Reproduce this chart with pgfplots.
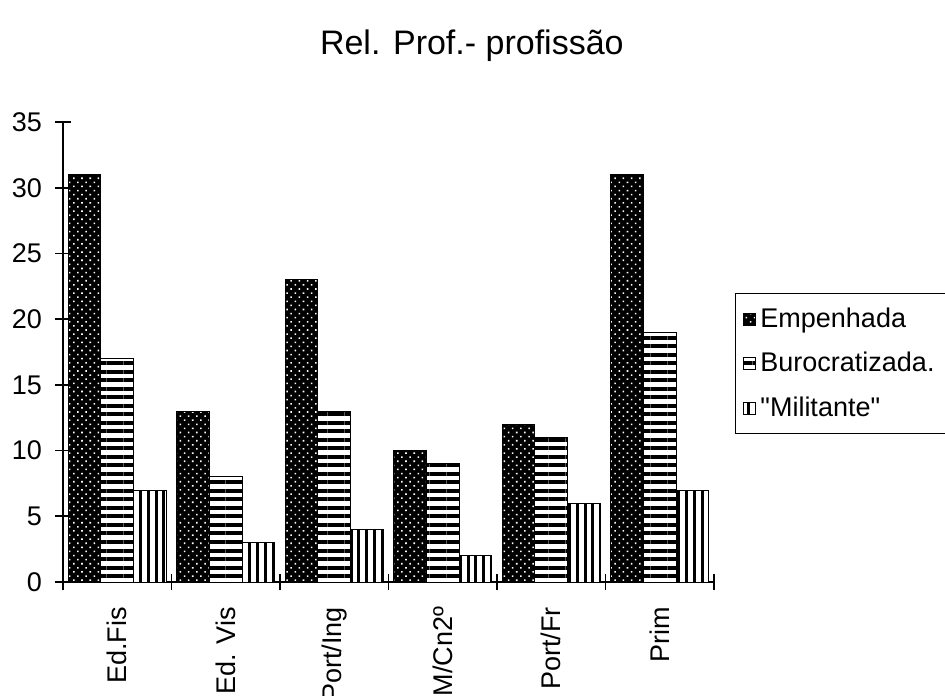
\documentclass[border=0pt]{standalone}
\usepackage{fontspec}
\setmainfont{Liberation Sans}[Ligatures=TeXOff]
\usepackage{pgfplots}
\pgfplotsset{compat=1.18}
\usetikzlibrary{patterns.meta}

\pgfplotsset{
  empenhada/.style={draw=black, line width=0.5pt, fill=black,
    postaction={pattern={Dots[angle=45, distance=2.9pt, radius=0.55pt]}, pattern color=white}},
  buro/.style={draw=black, line width=0.5pt, fill=white,
    postaction={pattern={Lines[angle=0, distance=4.25pt, line width=2pt]}, pattern color=black}},
  milit/.style={draw=black, line width=0.5pt, fill=white,
    postaction={pattern={Lines[angle=90, distance=3.9pt, line width=1.5pt]}, pattern color=black}},
}

\begin{document}
\begin{tikzpicture}
\useasboundingbox (-31.5pt,-56.5pt) rectangle (441pt,291pt);
\begin{axis}[
  at={(0,0)}, anchor=south west,
  scale only axis, width=325.5pt, height=230pt,
  ybar=0pt, bar width=0.3,
  xmin=0.5, xmax=6.5, ymin=0, ymax=35,
  ytick={0,5,...,35},
  xtick={0.5,1.5,...,6.5},
  xticklabels={,,,,,,},
  extra x ticks={1,2,3,4,5,6},
  extra x tick labels={Ed.Fis, Ed. Vis, Port/Ing, M/Cn2º, Port/Fr, Prim},
  extra x tick style={major tick length=0pt,
    xticklabel style={yshift=-9pt, rotate=90, anchor=east}},
  axis x line*=bottom, axis y line*=left,
  axis line style={-, line width=1pt},
  tick style={black, line width=0.8pt},
  tick align=center, major tick length=8pt,
  tick label style={font=\fontsize{13.5}{15}\selectfont},
  yticklabel style={xshift=-3pt},
  /pgf/number format/assume math mode=true,
  title={Rel. Prof.- profissão},
  title style={at={(0.628,1.139)}, anchor=center, font=\fontsize{17}{20}\selectfont},
  legend style={at={(1.032,0.628)}, anchor=north west, draw=black, line width=0.6pt,
    font=\fontsize{13.5}{15}\selectfont, row sep=7pt, inner xsep=4pt, inner ysep=5pt,
    legend cell align=left},
  legend image code/.code={\draw[#1] (0pt,-3pt) rectangle (6pt,3pt);},
]
\addplot[empenhada] coordinates {(1,31) (2,13) (3,23) (4,10) (5,12) (6,31)};
\addplot[buro] coordinates {(1,17) (2,8) (3,13) (4,9) (5,11) (6,19)};
\addplot[milit] coordinates {(1,7) (2,3) (3,4) (4,2) (5,6) (6,7)};
\legend{Empenhada, Burocratizada., "Militante"}
\end{axis}
\end{tikzpicture}
\end{document}
